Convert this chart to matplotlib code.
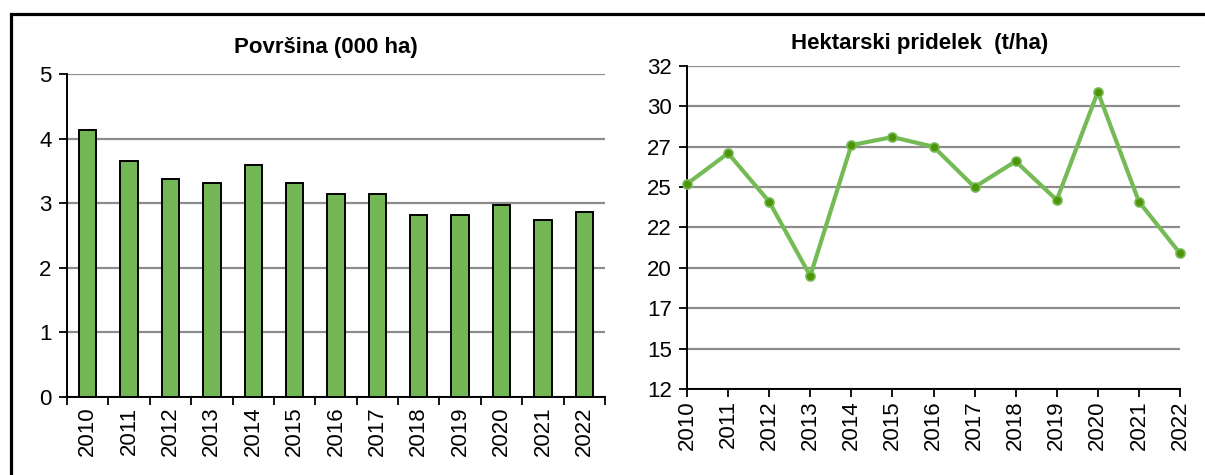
import matplotlib
matplotlib.use("Agg")
from matplotlib import pyplot as plt
from matplotlib.patches import Rectangle

# data
years = ["2010", "2011", "2012", "2013", "2014", "2015", "2016",
         "2017", "2018", "2019", "2020", "2021", "2022"]
povrsina = [4.13, 3.65, 3.37, 3.31, 3.59, 3.31, 3.15, 3.15, 2.82, 2.82, 2.97, 2.74, 2.87]
pridelek = [25.2, 27.1, 24.1, 19.5, 27.6, 28.1, 27.5, 25.0, 26.6, 24.2, 30.9, 24.1, 20.9]

left_ticks = [0, 1, 2, 3, 4, 5]
right_ticks = [12.5, 15, 17.5, 20, 22.5, 25, 27.5, 30, 32.5]
right_ticklabels = ["12", "15", "17", "20", "22", "25", "27", "30", "32"]

plt.rcParams['font.family'] = ['Liberation Sans', 'DejaVu Sans']

barColor = "#72b753"
lineColor = "#74bb55"
markerColor = "#4f9406"
gridColor = "#8c8c8c"

fig = plt.figure(figsize=(12.05, 4.75), dpi=100)
W, H = 1205.0, 475.0

def style(ax):
    for s in ["top", "right"]:
        ax.spines[s].set_visible(False)
    for s in ["left", "bottom"]:
        ax.spines[s].set_linewidth(1.4)
    ax.yaxis.grid(True, color=gridColor, linewidth=1.6)
    ax.set_axisbelow(True)
    ax.tick_params(axis="y", length=6, width=1.3, labelsize=16, pad=5)
    ax.tick_params(axis="x", length=6, width=1.3, labelsize=16, pad=2)

# left: bar chart
ax1 = fig.add_axes([67 / W, 1 - 397 / H, 538 / W, 323 / H])
x = list(range(len(years)))
ax1.bar(x, povrsina, width=0.42, color=barColor, edgecolor="black", linewidth=1.4, zorder=3)
ax1.set_xlim(-0.5, len(years) - 0.5)
ax1.set_ylim(0, 5)
ax1.set_yticks(left_ticks)
ax1.set_xticks(x)
ax1.set_xticklabels(years, rotation=90)
ax1.set_xticks([i - 0.5 for i in range(len(years) + 1)], minor=True)
style(ax1)
ax1.tick_params(axis="x", which="major", length=0)
ax1.tick_params(axis="x", which="minor", length=6, width=1.3)
ax1.tick_params(axis="x", pad=7)

# right: line chart
ax2 = fig.add_axes([687 / W, 1 - 389 / H, 493 / W, 323 / H])
ax2.plot(x, pridelek, color=lineColor, linewidth=3.0, marker="o", markersize=6.5,
         markerfacecolor=markerColor, markeredgecolor=lineColor, markeredgewidth=1.2,
         zorder=3, clip_on=False)
ax2.set_xlim(0, len(years) - 1)
ax2.set_ylim(12.5, 32.5)
ax2.set_yticks(right_ticks)
ax2.set_yticklabels(right_ticklabels)
ax2.set_xticks(x)
ax2.set_xticklabels(years, rotation=90)
style(ax2)

fig.text(326 / W, 1 - 47 / H, "Površina (000 ha)", ha="center", va="center",
         fontsize=16, fontweight="bold")
fig.text(920 / W, 1 - 44 / H, "Hektarski pridelek  (t/ha)", ha="center", va="center",
         fontsize=16, fontweight="bold")

# outer frame, cut off at right and bottom like the reference
fig.add_artist(Rectangle((11 / W, -0.2), 1.5, 1.2 - 13.5 / H, transform=fig.transFigure,
                         fill=False, edgecolor="black", linewidth=2.3, clip_on=False))

fig.savefig("out.png", dpi=100)
